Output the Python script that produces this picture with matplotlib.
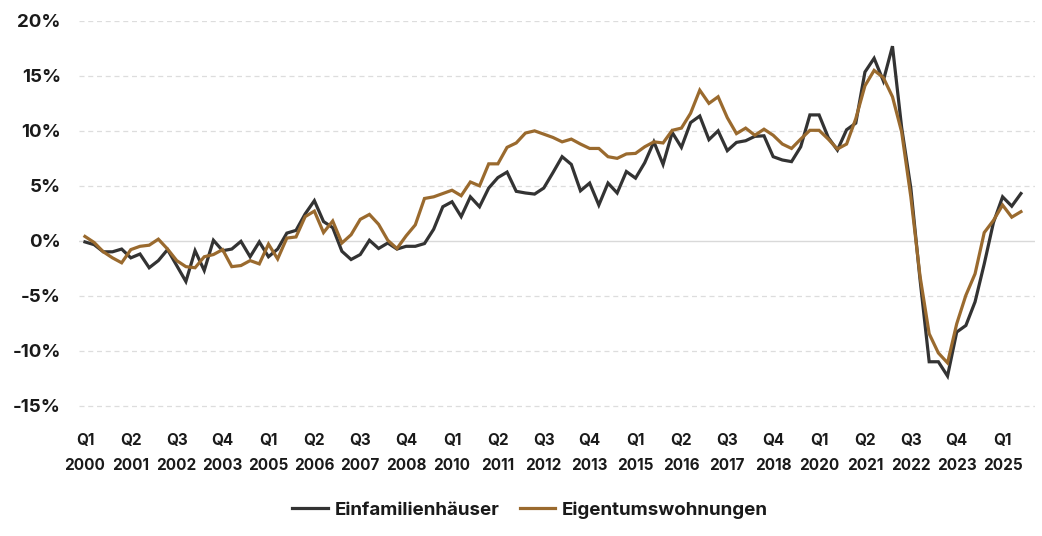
import matplotlib
matplotlib.use("Agg")
import matplotlib.pyplot as plt
from matplotlib.ticker import FuncFormatter

# quarterly change, Q1 2000 .. Q3 2025 (percent)
einfamilienhaeuser = [
    -0.1, -0.35, -1.0, -1.0, -0.75, -1.55, -1.2, -2.45, -1.8, -0.8,
    -2.25, -3.7, -0.9, -2.7, 0.05, -0.9, -0.75, -0.05, -1.45, -0.1,
    -1.45, -0.75, 0.7, 0.95, 2.45, 3.65, 1.75, 1.2, -0.95, -1.7,
    -1.25, 0.05, -0.7, -0.2, -0.75, -0.5, -0.5, -0.25, 1.05, 3.1,
    3.55, 2.2, 4.0, 3.1, 4.8, 5.75, 6.25, 4.5, 4.35, 4.25,
    4.8, 6.2, 7.65, 6.95, 4.55, 5.25, 3.25, 5.25, 4.35, 6.3,
    5.7, 7.1, 9.0, 6.95, 9.85, 8.5, 10.75, 11.35, 9.2, 10.0,
    8.2, 8.95, 9.1, 9.5, 9.55, 7.65, 7.35, 7.2, 8.55, 11.45,
    11.45, 9.4, 8.25, 10.1, 10.7, 15.35, 16.6, 14.55, 17.7, 10.3,
    4.8, -3.5, -11.0, -11.0, -12.3, -8.3, -7.7, -5.55, -2.1, 1.65,
    4.0, 3.15, 4.3,
]
eigentumswohnungen = [
    0.4, -0.15, -1.0, -1.55, -2.0, -0.8, -0.5, -0.4, 0.15, -0.75,
    -1.8, -2.35, -2.45, -1.45, -1.25, -0.8, -2.35, -2.25, -1.8, -2.1,
    -0.3, -1.65, 0.25, 0.35, 2.2, 2.7, 0.75, 1.8, -0.2, 0.55,
    1.95, 2.4, 1.5, 0.05, -0.7, 0.45, 1.45, 3.85, 4.0, 4.3,
    4.6, 4.1, 5.35, 5.0, 7.0, 7.0, 8.5, 8.9, 9.8, 10.0,
    9.7, 9.4, 9.0, 9.25, 8.8, 8.4, 8.4, 7.65, 7.5, 7.9,
    7.95, 8.55, 9.0, 8.9, 10.05, 10.25, 11.6, 13.7, 12.5, 13.1,
    11.2, 9.75, 10.25, 9.6, 10.15, 9.6, 8.8, 8.4, 9.25, 10.05,
    10.05, 9.25, 8.35, 8.8, 11.1, 14.1, 15.5, 14.85, 13.1, 9.9,
    4.0, -3.2, -8.45, -10.2, -11.1, -7.55, -4.95, -3.0, 0.75, 1.85,
    3.25, 2.15, 2.65,
]
tick_labels = [
    "Q1\n2000", "Q2\n2001", "Q3\n2002", "Q4\n2003", "Q1\n2005", "Q2\n2006",
    "Q3\n2007", "Q4\n2008", "Q1\n2010", "Q2\n2011", "Q3\n2012", "Q4\n2013",
    "Q1\n2015", "Q2\n2016", "Q3\n2017", "Q4\n2018", "Q1\n2020", "Q2\n2021",
    "Q3\n2022", "Q4\n2023", "Q1\n2025",
]
y_ticks = [20, 15, 10, 5, 0, -5, -10, -15]

DARK = "#333333"
BROWN = "#9a6a2e"

plt.rcParams["font.family"] = ["Inter", "DejaVu Sans"]

fig = plt.figure(figsize=(10.42, 5.36), dpi=100)
ax = fig.add_axes([0.0758, 0.202, 0.9172, 0.759])

x = list(range(len(einfamilienhaeuser)))
ax.plot(x, einfamilienhaeuser, color=DARK, lw=2.3, label="Einfamilienhäuser",
        solid_joinstyle="miter", zorder=3)
ax.plot(x, eigentumswohnungen, color=BROWN, lw=2.3, label="Eigentumswohnungen",
        solid_joinstyle="miter", zorder=3)

ax.set_xlim(-0.65, 103.5)
ax.set_ylim(-17, 20)
ax.set_yticks(y_ticks)
ax.yaxis.set_major_formatter(FuncFormatter(lambda v, _: f"{v:.0f}%"))
ax.set_xticks(range(0, 101, 5))
ax.set_xticklabels(tick_labels)

for v in y_ticks:
    if v == 0:
        ax.axhline(0, color="#d9d9d9", lw=1.0, zorder=1)
    else:
        ax.axhline(v, color="#dddddd", lw=0.9, ls=(0, (4, 3)), zorder=1)

for s in ax.spines.values():
    s.set_visible(False)
ax.tick_params(axis="both", length=0, labelcolor="#1a1a1a")
ax.tick_params(axis="y", pad=13, labelsize=13.5)
ax.tick_params(axis="x", pad=4, labelsize=11)
for lab in ax.get_yticklabels() + ax.get_xticklabels():
    lab.set_fontweight("bold")
for lab in ax.get_xticklabels():
    lab.set_linespacing(1.8)

leg = ax.legend(loc="upper center", bbox_to_anchor=(0.472, -0.14), ncol=2,
                frameon=False, handlelength=1.9, handletextpad=0.35,
                columnspacing=1.1, prop={"weight": "bold", "size": 13.5})
for t in leg.get_texts():
    t.set_color("#1a1a1a")

fig.savefig("out.png", dpi=100)
